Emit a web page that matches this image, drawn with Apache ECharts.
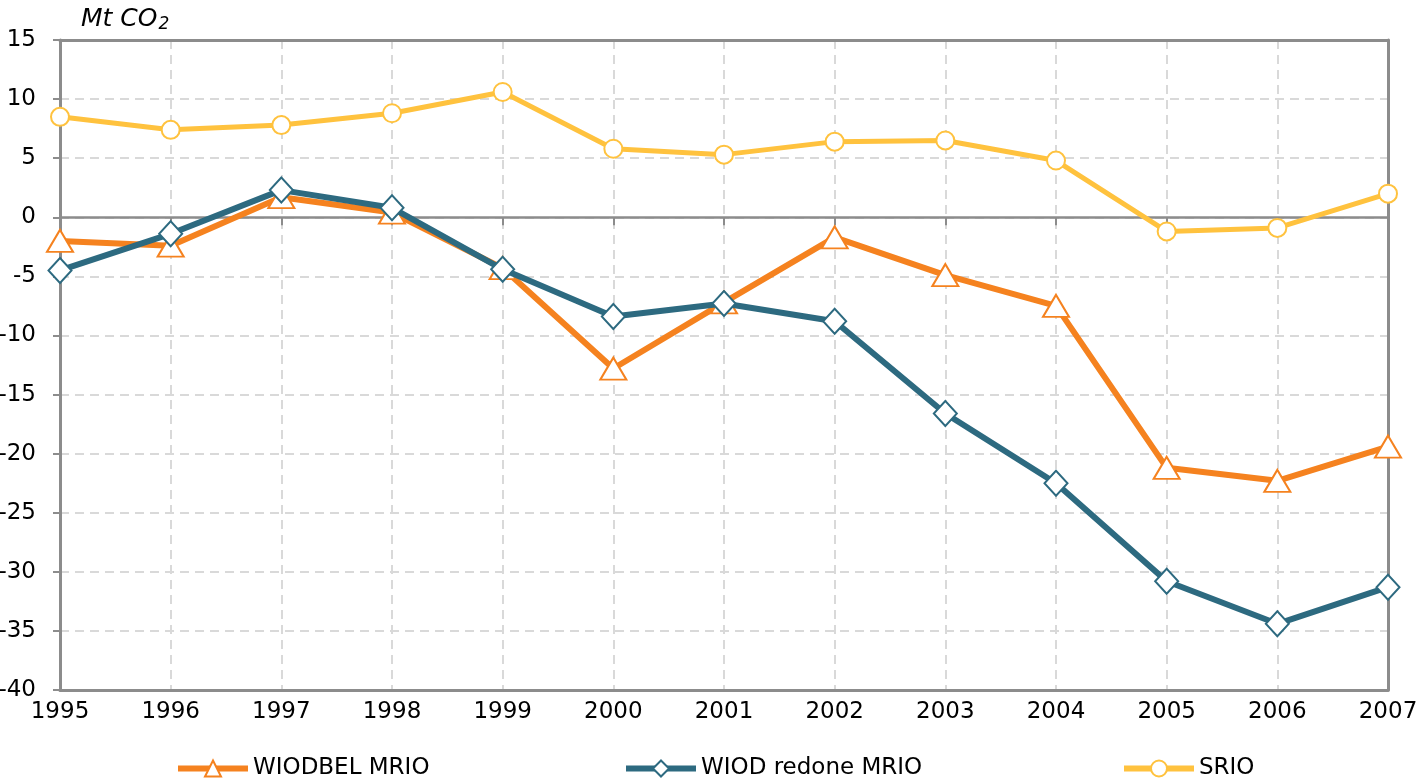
<!DOCTYPE html>
<html><head><meta charset="utf-8">
<script src="https://cdn.jsdelivr.net/npm/echarts@6/dist/echarts.min.js"></script>
<style>html,body{margin:0;padding:0;background:#fff}#c{width:1419px;height:778px}</style>
</head><body><div id="c"></div>
<script>
const years = ['1995','1996','1997','1998','1999','2000','2001','2002','2003','2004','2005','2006','2007'];
const wiodbel = [-2.0,-2.4,1.7,0.4,-4.3,-12.8,-7.2,-1.7,-4.9,-7.5,-21.2,-22.3,-19.4];
const wiodRedone = [-4.5,-1.4,2.3,0.8,-4.4,-8.4,-7.3,-8.8,-16.6,-22.5,-30.8,-34.4,-31.3];
const srio = [8.5,7.4,7.8,8.8,10.6,5.8,5.3,6.4,6.5,4.8,-1.2,-0.9,2.0];

const FONT = "'DejaVu Sans',sans-serif";
const AX = '#8c8c8c';
const GRID = '#d9d9d9';
const chart = echarts.init(document.getElementById('c'), null, {renderer:'canvas'});
const legendText = {fontFamily: FONT, fontSize: 23, color: '#000'};
const mkLegend = (name, left, color) => ({data: [name], left: left, top: 752, itemWidth: 70, itemHeight: 20, itemGap: 5, textStyle: legendText,
  lineStyle: {width: 6, color: color}});
chart.setOption({
  animation: false,
  title: {text: '{a|Mt CO}{b|2}', left: 76, top: 1,
    textStyle: {fontWeight: 'normal', rich: {
      a: {fontFamily: FONT, fontSize: 25, fontStyle: 'italic', fontWeight: 'normal', color: '#000'},
      b: {fontFamily: FONT, fontSize: 17, fontStyle: 'italic', fontWeight: 'normal', color: '#000', padding: [10, 0, 0, 1]}
    }}},
  grid: {left: 60, right: 31, top: 40, bottom: 88, show: false, containLabel: false, outerBoundsMode: 'none'},
  legend: [
    mkLegend('WIODBEL MRIO', 170, '#F5821F'),
    mkLegend('WIOD redone MRIO', 618, '#2D6A80'),
    mkLegend('SRIO', 1116, '#FFC23E')
  ],
  xAxis: [
    {type: 'category', data: years, boundaryGap: false, position: 'bottom',
     axisLine: {onZero: false, lineStyle: {color: AX, width: 3}},
     axisTick: {show: false},
     axisLabel: {fontFamily: FONT, fontSize: 23, color: '#000', margin: 11},
     splitLine: {show: true, lineStyle: {color: GRID, width: 2, type: [9, 6]}}, z: 5},
    {type: 'category', data: years, boundaryGap: false, position: 'bottom',
     axisLine: {onZero: true, lineStyle: {color: AX, width: 2.5}},
     axisTick: {show: true, length: 8, lineStyle: {color: AX, width: 2}},
     axisLabel: {show: false}, splitLine: {show: false}, z: 8},
    {type: 'category', data: years, boundaryGap: false, position: 'top',
     axisLine: {onZero: false, lineStyle: {color: AX, width: 3}},
     axisTick: {show: false}, axisLabel: {show: false}, splitLine: {show: false}, z: 5}
  ],
  yAxis: [
    {type: 'value', min: -40, max: 15, interval: 5,
    axisLine: {show: true, onZero: false, lineStyle: {color: AX, width: 3}},
    axisTick: {show: true, length: 7, lineStyle: {color: AX, width: 2}},
    axisLabel: {fontFamily: FONT, fontSize: 23, color: '#000', margin: 24},
    splitLine: {show: true, lineStyle: {color: GRID, width: 2, type: [9, 6]}}, z: 5},
    {type: 'value', min: -40, max: 15, interval: 5, position: 'right',
    axisLine: {show: true, onZero: false, lineStyle: {color: AX, width: 3}},
    axisTick: {show: false}, axisLabel: {show: false}, splitLine: {show: false}, z: 5}
  ],
  series: [
    {name: 'WIODBEL MRIO', type: 'line', data: wiodbel, symbol: 'triangle', symbolSize: [26, 22],
     lineStyle: {color: '#F5821F', width: 6}, itemStyle: {color: '#fff', borderColor: '#F5821F', borderWidth: 2}, z: 9},
    {name: 'WIOD redone MRIO', type: 'line', data: wiodRedone, symbol: 'diamond', symbolSize: [23, 25],
     lineStyle: {color: '#2D6A80', width: 6}, itemStyle: {color: '#fff', borderColor: '#2D6A80', borderWidth: 2}, z: 10},
    {name: 'SRIO', type: 'line', data: srio, symbol: 'circle', symbolSize: 18,
     lineStyle: {color: '#FFC23E', width: 5}, itemStyle: {color: '#fff', borderColor: '#FFC23E', borderWidth: 2}, z: 9}
  ]
});
</script></body></html>
